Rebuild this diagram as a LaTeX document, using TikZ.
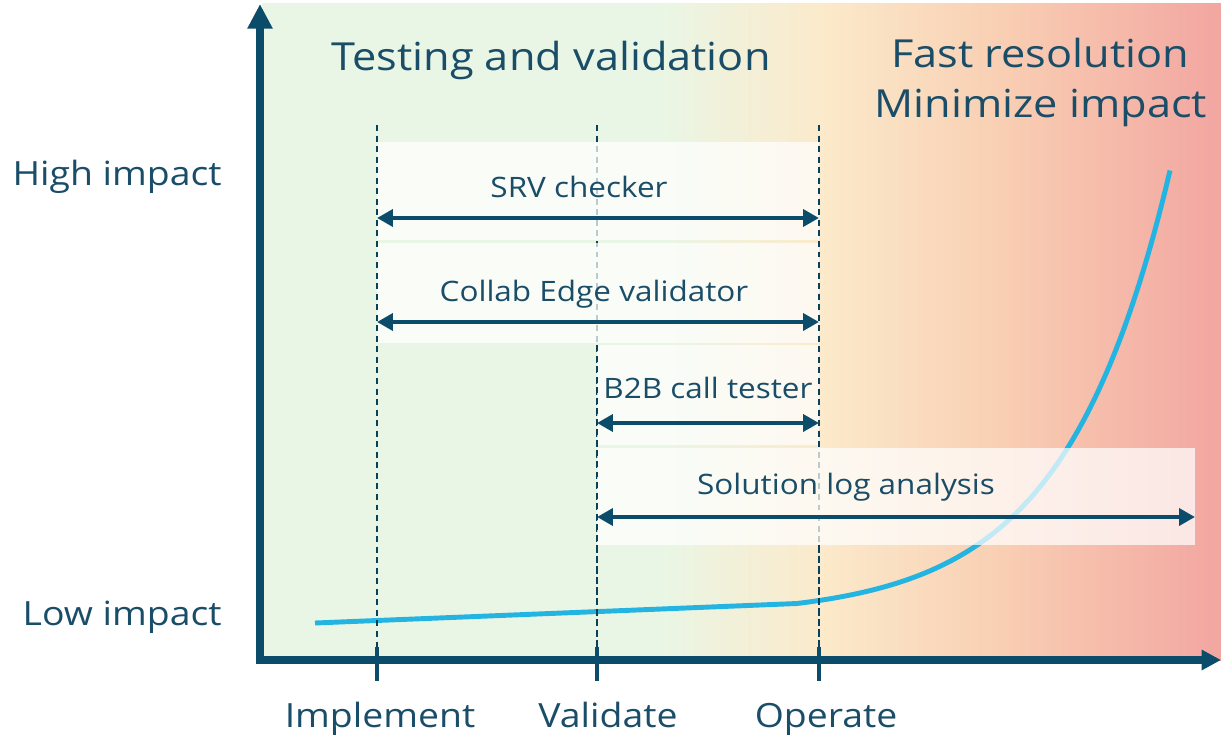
\documentclass[tikz,border=0pt]{standalone}
\usepackage{fontspec}
\setmainfont{Open Sans}[FakeStretch=1.12]
\usetikzlibrary{arrows.meta}
\definecolor{axiscol}{HTML}{0B4C6A}
\definecolor{txt}{HTML}{1A4D68}
\definecolor{curvecol}{HTML}{23B4E2}
\definecolor{bgA}{HTML}{EAF6E5}
\definecolor{bgB}{HTML}{FBEACB}
\definecolor{bgC}{HTML}{F9CFB3}
\definecolor{bgD}{HTML}{F2A6A1}
\tikzset{
  axisline/.style={draw=axiscol, line width=4pt},
  tickline/.style={draw=axiscol, line width=2.4pt},
  guide/.style={draw=axiscol!85!black, line width=0.8pt, dash pattern=on 3.4pt off 2.6pt},
  panel/.style={fill=white, fill opacity=0.72},
  span/.style={draw=axiscol, line width=2.3pt, {Triangle[length=9pt,width=9.5pt]}-{Triangle[length=9pt,width=9.5pt]}},
  head/.style={text=txt, inner sep=0pt, font=\fontsize{22}{26}\selectfont},
  lvl/.style={text=txt, inner sep=0pt, font=\fontsize{19}{23}\selectfont},
  lab/.style={text=txt, inner sep=0pt, font=\fontsize{16}{20}\selectfont},
  curveline/.style={draw=curvecol, line width=2.8pt}
}
\begin{document}
\begin{tikzpicture}[x=0.02cm,y=-0.02cm]
\useasboundingbox (0,0) rectangle (1221,734);
% background
\fill[bgA] (262,3) rectangle (661,660);
\shade[left color=bgA,right color=bgB] (660,3) rectangle (821,660);
\shade[left color=bgB,right color=bgC] (820,3) rectangle (1001,660);
\shade[left color=bgC,right color=bgD] (1000,3) rectangle (1221,660);
% guide coordinates
\coordinate (gIt) at (377,125); \coordinate (gIb) at (377,648);
\coordinate (gVt) at (597,125); \coordinate (gVm) at (597,345); \coordinate (gVb) at (597,648);
\coordinate (gOt) at (819,125); \coordinate (gOm) at (819,448); \coordinate (gOn) at (819,545); \coordinate (gOb) at (819,648);
\draw[guide] (gIt) -- (gIb);
\draw[guide] (gVt) -- (gVb);
\draw[guide] (gOt) -- (gOb);
% impact curve
\coordinate (c0) at (315,623);
\draw[curveline] (c0) -- plot[domain=797:1170,samples=90] (\x,{603.5-12.86*(exp(0.0095*(\x-797))-1)});
% panels
\fill[panel] (377,142) rectangle (819,240);
\fill[panel] (377,243) rectangle (819,343);
\fill[panel] (597,345) rectangle (819,445);
\fill[panel] (597,448) rectangle (1195,545);
% guides in front of panels
\draw[guide] (gIt) -- (gIb);
\draw[guide] (gVm) -- (gVb);
\draw[guide] (gOt) -- (gOm);
\draw[guide] (gOn) -- (gOb);
% axes
\coordinate (O) at (260,660);
\coordinate (ytop) at (260,4);
\coordinate (xend) at (1221,660);
\draw[axisline,-{Triangle[length=14pt,width=13.5pt]}] (260,664) -- (ytop);
\draw[axisline,-{Triangle[length=11pt,width=11pt]}] (256.5,660) -- (xend);
% ticks
\coordinate (tI1) at (377,647); \coordinate (tI2) at (377,681);
\coordinate (tV1) at (597,647); \coordinate (tV2) at (597,681);
\coordinate (tO1) at (819,647); \coordinate (tO2) at (819,681);
\draw[tickline] (tI1) -- (tI2);
\draw[tickline] (tV1) -- (tV2);
\draw[tickline] (tO1) -- (tO2);
% spans
\coordinate (s1l) at (377,218); \coordinate (s1r) at (819,218);
\coordinate (s2l) at (377,322); \coordinate (s2r) at (819,322);
\coordinate (s3l) at (597,423); \coordinate (s3r) at (819,423);
\coordinate (s4l) at (597,517); \coordinate (s4r) at (1195,517);
\draw[span] (s1l) -- (s1r);
\draw[span] (s2l) -- (s2r);
\draw[span] (s3l) -- (s3r);
\draw[span] (s4l) -- (s4r);
% labels
\node[head,anchor=base] (tv) at (551,70) {Testing and validation};
\node[head,anchor=base] (fr) at (1040,67) {Fast resolution};
\node[head,anchor=base] (mi) at (1041,117) {Minimize impact};
\node[lvl,anchor=base east] (hi) at (222,185) {High impact};
\node[lvl,anchor=base east] (lo) at (222,625) {Low impact};
\node[lab,anchor=base] (srv) at (579,197) {SRV checker};
\node[lab,anchor=base] (cev) at (594,301) {Collab Edge validator};
\node[lab,anchor=base] (b2b) at (708,398) {B2B call tester};
\node[lab,anchor=base] (sla) at (846,494) {Solution log analysis};
\node[lvl,anchor=base] (imp) at (380,727) {Implement};
\node[lvl,anchor=base] (val) at (608,727) {Validate};
\node[lvl,anchor=base] (ope) at (826,727) {Operate};
\end{tikzpicture}
\end{document}
